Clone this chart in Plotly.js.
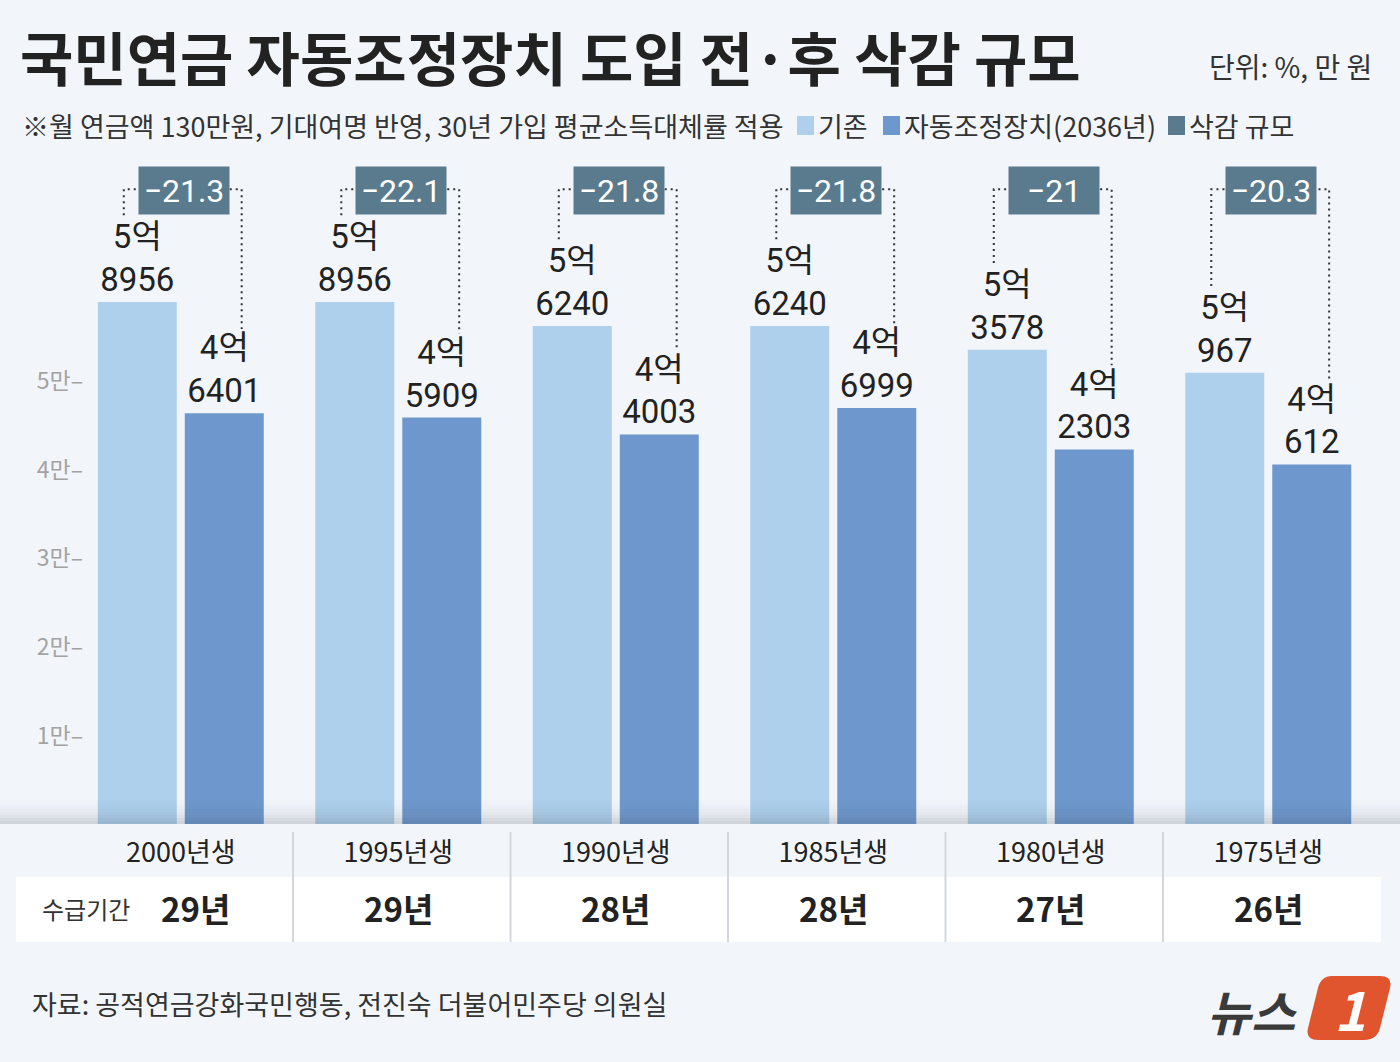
<!DOCTYPE html>
<html>
<head>
<meta charset="utf-8">
<script src="https://cdn.plot.ly/plotly-3.0.1.min.js"></script>
<style>
html,body{margin:0;padding:0;background:#f2f6fb;}
#chart{width:1400px;height:1062px;}
</style>
</head>
<body>
<div id="chart"></div>
<script>
// ---- data ----
const categories = ['2000년생','1995년생','1990년생','1985년생','1980년생','1975년생'];
const baseline   = [58956, 58956, 56240, 56240, 53578, 50967];
const adjusted   = [46401, 45909, 44003, 46999, 42303, 40612];
const cutRate    = [-21.3, -22.1, -21.8, -21.8, -21, -20.3];
const payPeriod  = ['29년','29년','28년','28년','27년','26년'];
const yTickVals  = [10000, 20000, 30000, 40000, 50000];
const yTickText  = ['1만','2만','3만','4만','5만'];
const seriesNames = ['기존','자동조정장치(2036년)','삭감 규모'];

// ---- layout constants ----
const W = 1400, H = 1062, ML = 84, MR = 23, MT = 160, MB = 238;
const PW = W - ML - MR, PH = H - MT - MB;
const px = v => (v - ML) / PW;
const py = v => (H - MB - v) / PH;
const FONT = 'Noto Sans CJK KR, Noto Sans, sans-serif';
const NUMFONT = 'Roboto, Noto Sans CJK KR, sans-serif';
const C_LIGHT = '#aed0ec', C_MID = '#6e98cd', C_SLATE = '#5a7a8d', C_TEXT = '#222222';

const fmt = v => Math.floor(v / 10000) + '억<br>' + (v % 10000);

const traces = [
  {type:'bar', name: seriesNames[0], x: categories, y: baseline,
   marker:{color:C_LIGHT}, text: baseline.map(fmt), textposition:'outside',
   constraintext:'none', cliponaxis:false,
   textfont:{family:NUMFONT, size:33, color:C_TEXT}, hoverinfo:'skip'},
  {type:'bar', name: seriesNames[1], x: categories, y: adjusted,
   marker:{color:C_MID}, text: adjusted.map(fmt), textposition:'outside',
   constraintext:'none', cliponaxis:false,
   textfont:{family:NUMFONT, size:33, color:C_TEXT}, hoverinfo:'skip'}
];

const shapes = [];
const annotations = [];

// bottom shadow gradient over the plot base
const shadeOp = [0.01, 0.02, 0.035, 0.055, 0.08, 0.11, 0.15, 0.19];
shadeOp.forEach((op, k) => {
  const top = 800 + k * 3;
  shapes.push({type:'rect', xref:'paper', yref:'paper', layer:'above',
    x0: px(0), x1: px(W), y0: py(top + 3), y1: py(top),
    fillcolor:'rgba(60,70,80,' + op + ')', line:{width:0}});
});

// white table row
shapes.push({type:'rect', xref:'paper', yref:'paper', layer:'below',
  x0: px(16), x1: px(1381), y0: py(942), y1: py(877),
  fillcolor:'#ffffff', line:{width:0}});
// separators
for (let i = 0; i < categories.length - 1; i++) {
  shapes.push({type:'line', xref:'x', yref:'paper', x0: i + 0.516, x1: i + 0.516,
    y0: py(832), y1: py(942), line:{color:'#d3d7dc', width:2}});
}

// dotted connectors + reduction boxes
const yTopLine = 71700;
categories.forEach((c, i) => {
  const xl = i - 0.262, xr = i + 0.28;
  const yl = baseline[i] + 9800, yr = adjusted[i] + 9500;
  shapes.push({type:'path', xref:'x', yref:'y', layer:'above',
    path: `M ${xl},${yl} L ${xl},${yTopLine} L ${xr},${yTopLine} L ${xr},${yr}`,
    line:{color:'#333', width:2, dash:'2px,4px'}});
  annotations.push({xref:'x', yref:'paper', x: i, xshift: 3, y: py(190),
    xanchor:'center', yanchor:'middle', showarrow:false,
    text: '−' + Math.abs(cutRate[i]), width: 90, height: 47, borderpad: 0,
    bgcolor: C_SLATE, font:{family:NUMFONT, size:32, color:'#ffffff'}});
  annotations.push({xref:'x', yref:'paper', x: i, xshift: (i === 0 ? 15 : 0), y: py(908),
    xanchor:'center', yanchor:'middle', showarrow:false,
    text: '<b>' + payPeriod[i] + '</b>', font:{family:FONT, size:33, color:C_TEXT}});
});

annotations.push({xref:'paper', yref:'paper', x: px(40), y: py(908), xanchor:'left', yanchor:'middle',
  showarrow:false, text:'수급기간', font:{family:FONT, size:24, color:'#333'}});

// subtitle
annotations.push({xref:'paper', yref:'paper', x: px(20), y: py(125), xanchor:'left', yanchor:'middle',
  showarrow:false, text:'※월 연금액 130만원, 기대여명 반영, 30년 가입 평균소득대체률 적용',
  font:{family:FONT, size:27, color:'#333'}});
// unit
annotations.push({xref:'paper', yref:'paper', x: px(1374), y: py(66), xanchor:'right', yanchor:'middle',
  showarrow:false, text:'단위: %, 만 원', font:{family:FONT, size:28, color:'#333'}});

// custom legend
const legCols = [C_LIGHT, C_MID, C_SLATE];
const legSq = [797, 883, 1168];
legCols.forEach((col, k) => {
  shapes.push({type:'rect', xref:'paper', yref:'paper', x0: px(legSq[k]), x1: px(legSq[k] + 17),
    y0: py(135), y1: py(116), fillcolor: col, line:{width:0}});
  annotations.push({xref:'paper', yref:'paper', x: px(legSq[k] + 19), y: py(125), xanchor:'left', yanchor:'middle',
    showarrow:false, text: seriesNames[k], font:{family:FONT, size:27, color:'#333'}});
});

// source
annotations.push({xref:'paper', yref:'paper', x: px(30), y: py(1003), xanchor:'left', yanchor:'middle',
  showarrow:false, text:'자료: 공적연금강화국민행동, 전진숙 더불어민주당 의원실',
  font:{family:FONT, size:27, color:'#333'}});

// logo
const lp = (x, y) => px(x).toFixed(5) + ',' + py(y).toFixed(5);
shapes.push({type:'path', xref:'paper', yref:'paper',
  path: `M ${lp(1332,976)} L ${lp(1380,976)} Q ${lp(1393,976)} ${lp(1390,988)} L ${lp(1380,1028)} Q ${lp(1377,1040)} ${lp(1364,1040)} L ${lp(1318,1040)} Q ${lp(1305,1040)} ${lp(1308,1028)} L ${lp(1318,988)} Q ${lp(1321,976)} ${lp(1332,976)} Z`,
  fillcolor:'#e0542e', line:{width:0}});
annotations.push({xref:'paper', yref:'paper', x: px(1350), y: py(1008), xanchor:'center', yanchor:'middle',
  showarrow:false, text:'<b><i>1</i></b>', font:{family:FONT, size:54, color:'#ffffff'}});
annotations.push({xref:'paper', yref:'paper', x: px(1252), y: py(1010), xanchor:'center', yanchor:'middle',
  showarrow:false, text:'<b><i>뉴스</i></b>', font:{family:FONT, size:48, color:'#3a3a3a'}});

const layout = {
  width: W, height: H,
  margin:{l: ML, r: MR, t: MT, b: MB},
  paper_bgcolor:'#f2f6fb', plot_bgcolor:'#f2f6fb',
  font:{family: FONT, color: C_TEXT},
  title:{text:'<b>국민연금 자동조정장치 도입 전·후 삭감 규모</b>', x: 20/W, xref:'container', xanchor:'left',
    y: 1 - 61/H, yref:'container', yanchor:'middle', font:{family:FONT, size:58, color:'#222'}},
  showlegend:false,
  barmode:'group', bargap:0.2, bargroupgap:0.092,
  xaxis:{type:'category', range:[-0.445, 5.5], showgrid:false, zeroline:false, showline:false,
    ticks:'', tickfont:{family:FONT, size:27, color:'#222'}, ticklabelstandoff: 10, fixedrange:true},
  yaxis:{range:[0, 75000], tickvals: yTickVals, ticktext: yTickText.map(t => t + '–'),
    showgrid:false, zeroline:false, showline:false, ticks:'', ticklabelstandoff: 0,
    tickfont:{family:FONT, size:23, color:'#a3a3a3'}, fixedrange:true},
  shapes, annotations
};

Plotly.newPlot('chart', traces, layout, {displayModeBar:false, staticPlot:true});
</script>
</body>
</html>
